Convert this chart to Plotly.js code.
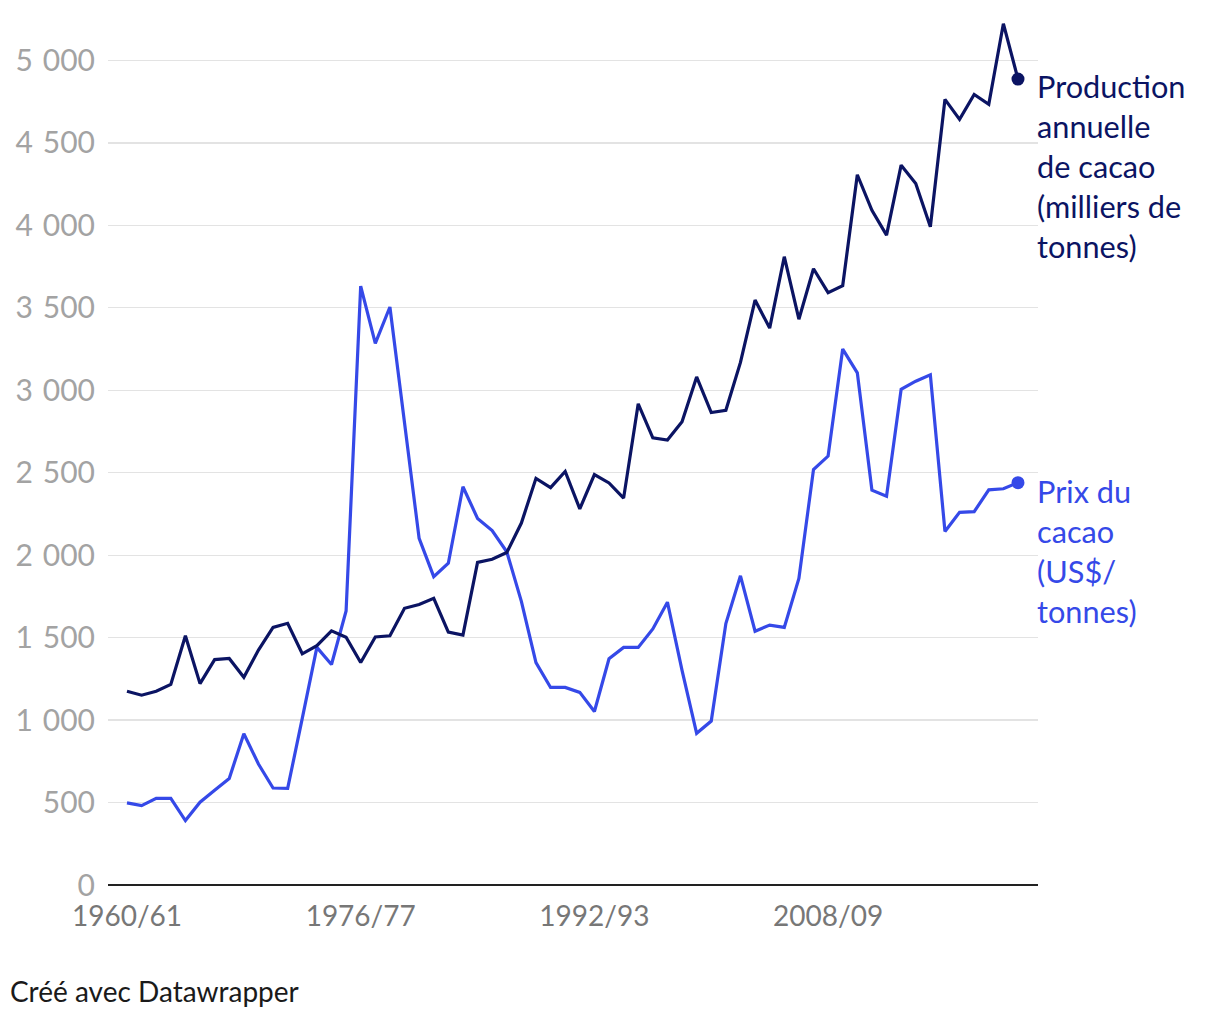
<!DOCTYPE html>
<html>
<head>
<meta charset="utf-8">
<script src="https://cdn.plot.ly/plotly-3.0.1.min.js"></script>
<style>
  html, body { margin: 0; padding: 0; background: #fff; }
  #chart { width: 1220px; height: 1020px; }
</style>
</head>
<body>
<div id="chart"></div>
<script>
// Seasons 1960/61 .. 2021/22
const startYear = 1960;
const nSeasons = 62;
const seasons = [];
for (let i = 0; i < nSeasons; i++) {
  const y = startYear + i;
  seasons.push(y + "/" + String((y + 1) % 100).padStart(2, "0"));
}

// Annual cocoa production (thousand tonnes)
const production = [
  1175, 1151, 1175, 1216, 1511, 1221, 1367, 1374, 1260, 1425,
  1562, 1587, 1402, 1451, 1541, 1502, 1349, 1504, 1511, 1678,
  1701, 1738, 1534, 1515, 1956, 1975, 2016, 2195, 2466, 2410,
  2508, 2281, 2489, 2438, 2346, 2918, 2712, 2698, 2809, 3081,
  2865, 2879, 3169, 3547, 3377, 3810, 3431, 3737, 3592, 3635,
  4307, 4091, 3941, 4365, 4254, 3992, 4764, 4643, 4794, 4734,
  5223, 4887
];

// Cocoa price (US$/tonne)
const price = [
  498, 481, 525, 525, 391, 502, 574, 646, 917, 734,
  588, 586, 1010, 1441, 1337, 1662, 3632, 3285, 3505, 2800,
  2102, 1870, 1951, 2415, 2223, 2149, 2021, 1720, 1349, 1198,
  1198, 1168, 1052, 1372, 1441, 1441, 1553, 1715, 1302, 920,
  994, 1585, 1875, 1539, 1576, 1562, 1859, 2519, 2601, 3250,
  3106, 2394, 2357, 3006, 3055, 3094, 2144, 2260, 2264, 2396,
  2403, 2440
];

const tickLabels = ["1960/61", "1976/77", "1992/93", "2008/09"];
const yTicks = [0, 500, 1000, 1500, 2000, 2500, 3000, 3500, 4000, 4500, 5000];

const prodLabel = "Production<br>annuelle<br>de cacao<br>(milliers de<br>tonnes)";
const priceLabel = "Prix du<br>cacao<br>(US$/<br>tonnes)";

const darkColor = "#0b1463";
const blueColor = "#3549e8";
const FONT = "Lato, 'Open Sans', sans-serif";

const last = nSeasons - 1;

const traces = [
  {
    x: seasons, y: price, type: "scatter", mode: "lines",
    line: { color: blueColor, width: 3.2 }, hoverinfo: "skip"
  },
  {
    x: seasons, y: production, type: "scatter", mode: "lines",
    line: { color: darkColor, width: 3.2 }, hoverinfo: "skip"
  },
  {
    x: [seasons[last]], y: [price[last]], type: "scatter", mode: "markers",
    marker: { color: blueColor, size: 13 }, hoverinfo: "skip"
  },
  {
    x: [seasons[last]], y: [production[last]], type: "scatter", mode: "markers",
    marker: { color: darkColor, size: 13 }, hoverinfo: "skip"
  }
];

const layout = {
  width: 1220, height: 1020,
  margin: { l: 108, r: 182, t: 10.5, b: 135, pad: 0 },
  paper_bgcolor: "#fff", plot_bgcolor: "#fff",
  showlegend: false,
  separators: ".\u2004",
  font: { family: FONT },
  xaxis: {
    type: "category",
    range: [-1.3, 62.37],
    tickmode: "array",
    tickvals: tickLabels,
    ticktext: tickLabels,
    ticks: "",
    showgrid: false,
    zeroline: false,
    showline: false,
    ticklabelstandoff: 12,
    tickfont: { family: FONT, size: 28, color: "#777777" },
    fixedrange: true
  },
  yaxis: {
    range: [0, 5300],
    tickmode: "array",
    tickvals: yTicks,
    tickformat: ",d",
    ticks: "",
    showgrid: true,
    gridcolor: "#e3e3e3",
    gridwidth: 1.3,
    zeroline: true,
    zerolinecolor: "#222222",
    zerolinewidth: 2,
    showline: false,
    ticklabelstandoff: 12,
    tickfont: { family: FONT, size: 30, color: "#a3a3a3" },
    fixedrange: true
  },
  annotations: [
    {
      xref: "paper", yref: "y", x: 1, y: 4965,
      xanchor: "left", yanchor: "top", align: "left", showarrow: false,
      xshift: -3,
      text: prodLabel,
      font: { family: FONT, size: 30.7, color: darkColor }
    },
    {
      xref: "paper", yref: "y", x: 1, y: 2512,
      xanchor: "left", yanchor: "top", align: "left", showarrow: false,
      xshift: -3,
      text: priceLabel,
      font: { family: FONT, size: 30.7, color: blueColor }
    },
    {
      xref: "paper", yref: "paper", x: -0.107, y: -0.099,
      xanchor: "left", yanchor: "top", align: "left", showarrow: false,
      text: "Créé avec Datawrapper",
      font: { family: FONT, size: 28, color: "#1a1a1a" }
    }
  ]
};

Plotly.newPlot("chart", traces, layout, { displayModeBar: false, staticPlot: true });
</script>
</body>
</html>
